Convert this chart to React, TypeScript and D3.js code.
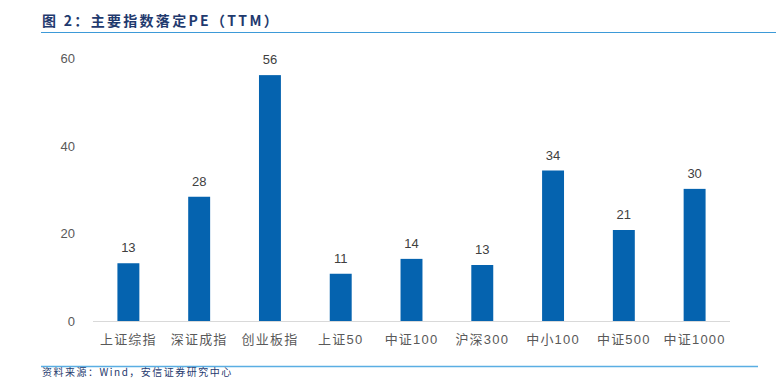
import React from "react";
import * as d3 from "d3";

const categories = ["上证综指", "深证成指", "创业板指", "上证50", "中证100", "沪深300", "中小100", "中证500", "中证1000"];
const values = [13.2, 28.4, 56.2, 10.8, 14.2, 12.8, 34.4, 20.8, 30.2];
const yTicks = [0, 20, 40, 60];

const W = 776;
const H = 378;

export default function App() {
  const x = d3.scaleBand<string>().domain(categories).range([93, 730]).paddingInner(0.69).paddingOuter(0.345);
  const y = d3.scaleLinear().domain([0, 60]).range([321, 58.5]);
  const font = "'Noto Sans CJK SC', 'Noto Sans', sans-serif";
  const numFont = "'Liberation Sans', 'Noto Sans CJK SC', sans-serif";
  return (
    <svg width={W} height={H} style={{ position: "absolute", left: 0, top: 0, background: "#fff" }}>
      <text x={42} y={26} fontFamily={font} fontWeight={700} fontSize={14} fill="#1f3a6e" letterSpacing={2.3}>
        图 2：主要指数落定PE（TTM）
      </text>
      <line x1={41} x2={776} y1={32.5} y2={32.5} stroke="#3d9ad8" strokeWidth={1.2} />
      {yTicks.map((t) => (
        <text key={t} x={75} y={y(t)} dy="0.35em" textAnchor="end" fontFamily={numFont} fontSize={13} fill="#595959">
          {t}
        </text>
      ))}
      <line x1={93} x2={730} y1={321.5} y2={321.5} stroke="#d9d9d9" strokeWidth={1} />
      {categories.map((c, i) => (
        <g key={c}>
          <rect x={x(c)} y={y(values[i])} width={x.bandwidth()} height={y(0) - y(values[i])} fill="#0563af" />
          <text x={(x(c) as number) + x.bandwidth() / 2} y={y(values[i]) - 11} textAnchor="middle" fontFamily={numFont} fontSize={13} fill="#404040">
            {Math.round(values[i])}
          </text>
          <text x={(x(c) as number) + x.bandwidth() / 2} y={344} textAnchor="middle" fontFamily={numFont} fontSize={13} fill="#595959" letterSpacing={1.2}>
            {c}
          </text>
        </g>
      ))}
      <line x1={41} x2={758} y1={366.5} y2={366.5} stroke="#5aaee3" strokeWidth={1.5} />
      <text x={42} y={376} fontFamily={font} fontSize={10} fill="#1f3a6e" letterSpacing={1.5}>
        资料来源：Wind，安信证券研究中心
      </text>
    </svg>
  );
}
